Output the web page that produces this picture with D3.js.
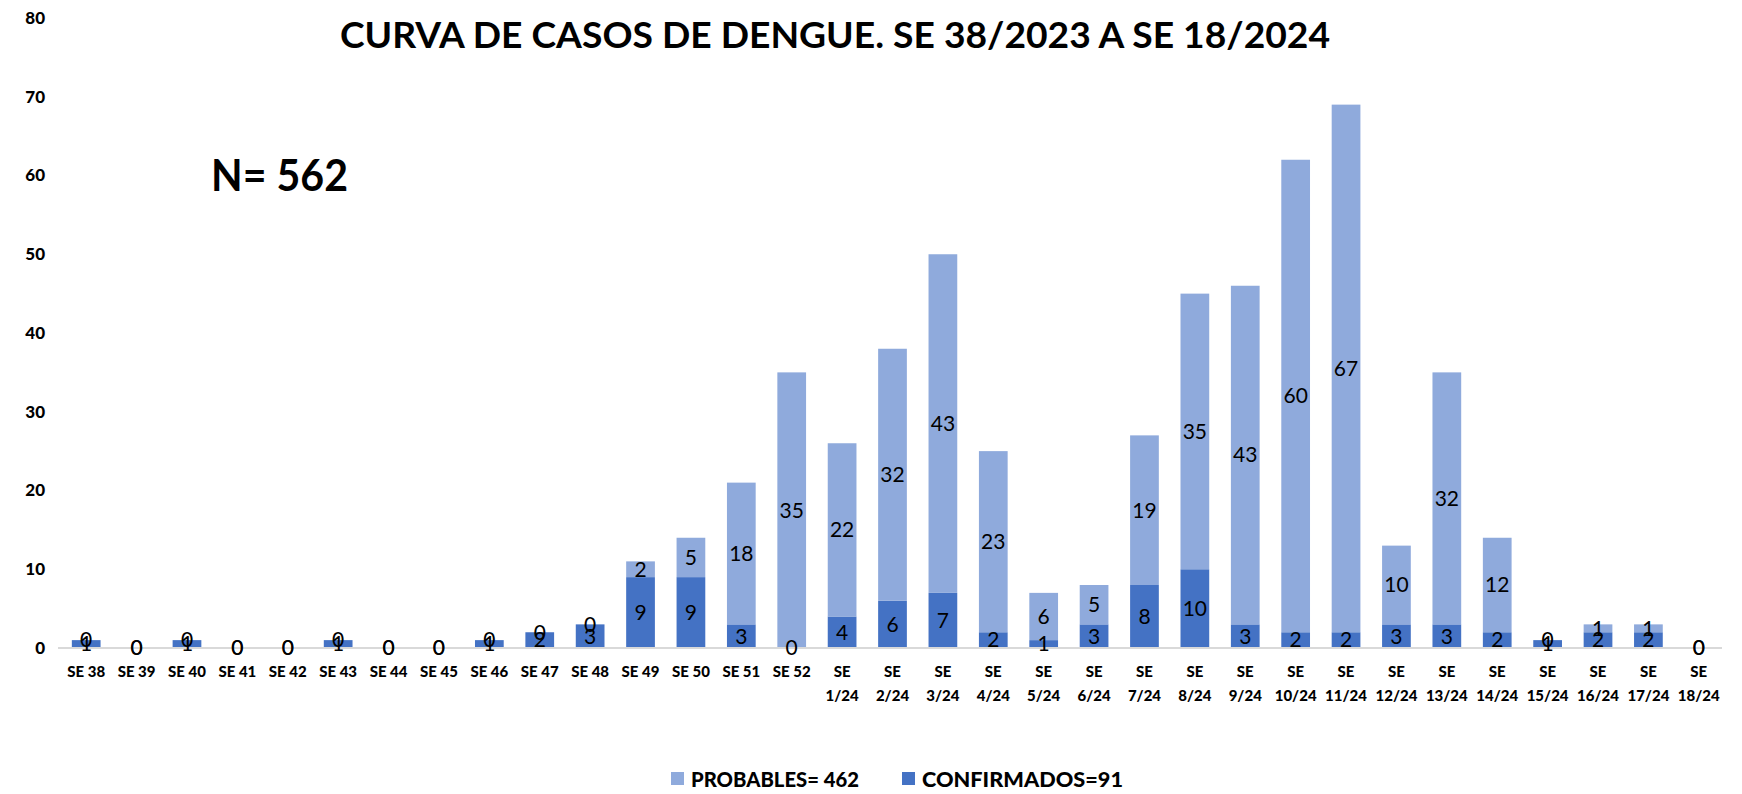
<!DOCTYPE html>
<html>
<head>
<meta charset="utf-8">
<script src="https://cdn.jsdelivr.net/npm/d3@7"></script>
<style>
  body { margin: 0; background: #fff; }
  svg { display: block; font-family: Lato, "Open Sans", sans-serif; }
</style>
</head>
<body>
<svg id="chart" width="1742" height="794"></svg>
<script>
// semanas epidemiologicas
const weeks = ["SE 38", "SE 39", "SE 40", "SE 41", "SE 42", "SE 43", "SE 44", "SE 45", "SE 46", "SE 47",
  "SE 48", "SE 49", "SE 50", "SE 51", "SE 52", "SE 1/24", "SE 2/24", "SE 3/24", "SE 4/24", "SE 5/24",
  "SE 6/24", "SE 7/24", "SE 8/24", "SE 9/24", "SE 10/24", "SE 11/24", "SE 12/24", "SE 13/24",
  "SE 14/24", "SE 15/24", "SE 16/24", "SE 17/24", "SE 18/24"];
const confirmados = [1, 0, 1, 0, 0, 1, 0, 0, 1, 2, 3, 9, 9, 3, 0, 4, 6, 7, 2, 1, 3, 8, 10, 3, 2, 2, 3, 3, 2, 1, 2, 2, 0];
const probables = [0, 0, 0, 0, 0, 0, 0, 0, 0, 0, 0, 2, 5, 18, 35, 22, 32, 43, 23, 6, 5, 19, 35, 43, 60, 67, 10, 32, 12, 0, 1, 1, 0];
const yTicks = [0, 10, 20, 30, 40, 50, 60, 70, 80];
const legendLabels = ["PROBABLES= 462", "CONFIRMADOS=91"];

const colConf = "#4472C4";
const colProb = "#8FAADC";

const svg = d3.select("#chart");

const x = d3.scaleBand().domain(weeks).range([61, 1724]).padding(0);
const barW = x.bandwidth() * 0.57;
const y = d3.scaleLinear().domain([0, 80]).range([648, 18]);

// title
svg.append("text")
  .attr("x", 835).attr("y", 48)
  .attr("text-anchor", "middle")
  .attr("textLength", 990).attr("lengthAdjust", "spacingAndGlyphs")
  .style("font-size", "36px").style("font-weight", "bold")
  .text("CURVA DE CASOS DE DENGUE. SE 38/2023 A SE 18/2024");

svg.append("text")
  .attr("x", 211).attr("y", 191)
  .attr("textLength", 137).attr("lengthAdjust", "spacingAndGlyphs")
  .style("font-size", "44px").style("font-weight", "bold")
  .text("N= 562");

// y labels (no axis line)
svg.append("g").selectAll("text").data(yTicks).join("text")
  .attr("x", 45).attr("y", d => y(d))
  .attr("dy", "0.35em")
  .attr("text-anchor", "end")
  .style("font-size", "17px").style("font-weight", "900")
  .text(d => d);

// bars
const data = weeks.map((w, i) => ({ w, c: confirmados[i], p: probables[i] }));
const gBars = svg.append("g");
gBars.selectAll(".conf").data(data).join("rect")
  .attr("class", "conf")
  .attr("x", d => x(d.w) + (x.bandwidth() - barW) / 2)
  .attr("width", barW)
  .attr("y", d => y(d.c))
  .attr("height", d => y(0) - y(d.c))
  .attr("fill", colConf);
gBars.selectAll(".prob").data(data).join("rect")
  .attr("class", "prob")
  .attr("x", d => x(d.w) + (x.bandwidth() - barW) / 2)
  .attr("width", barW)
  .attr("y", d => y(d.c + d.p))
  .attr("height", d => y(d.c) - y(d.c + d.p))
  .attr("fill", colProb);

// baseline
svg.append("line")
  .attr("x1", 58).attr("x2", 1722)
  .attr("y1", y(0)).attr("y2", y(0))
  .attr("stroke", "#D9D9D9").attr("stroke-width", 2);

// data labels
const gLab = svg.append("g").style("font-size", "21px");
gLab.selectAll(".lc").data(data).join("text")
  .attr("x", d => x(d.w) + x.bandwidth() / 2)
  .attr("y", d => y(d.c / 2))
  .attr("dy", "0.35em").attr("text-anchor", "middle")
  .text(d => d.c);
gLab.selectAll(".lp").data(data).join("text")
  .attr("x", d => x(d.w) + x.bandwidth() / 2)
  .attr("y", d => y(d.c + d.p / 2))
  .attr("dy", "0.35em").attr("text-anchor", "middle")
  .text(d => d.p);

// x labels
const gx = svg.append("g").style("font-size", "15px").style("font-weight", "900");
data.forEach(d => {
  const cx = x(d.w) + x.bandwidth() / 2;
  const t = gx.append("text").attr("text-anchor", "middle");
  if (d.w.includes("/")) {
    const parts = d.w.split(" ");
    t.append("tspan").attr("x", cx).attr("y", 677).text(parts[0]);
    t.append("tspan").attr("x", cx).attr("y", 701).text(parts[1]);
  } else {
    t.attr("x", cx).attr("y", 677).text(d.w);
  }
});

// legend
const legX = [671, 902];
const legCol = [colProb, colConf];
const legW = [168, 201];
legendLabels.forEach((l, i) => {
  svg.append("rect").attr("x", legX[i]).attr("y", 772).attr("width", 13).attr("height", 13).attr("fill", legCol[i]);
  svg.append("text").attr("x", legX[i] + 20).attr("y", 787)
    .attr("textLength", legW[i]).attr("lengthAdjust", "spacingAndGlyphs")
    .style("font-size", "21px").style("font-weight", "900")
    .text(l);
});
</script>
</body>
</html>
